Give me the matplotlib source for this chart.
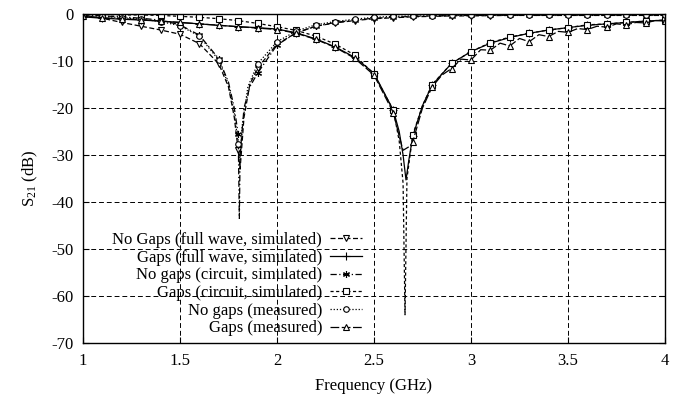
import numpy as np
import matplotlib
matplotlib.use("Agg")
import matplotlib.pyplot as plt

plt.rcParams['font.family'] = ['Liberation Serif', 'DejaVu Serif']
plt.rcParams['mathtext.fontset'] = 'custom'
plt.rcParams['mathtext.rm'] = 'Liberation Serif'
plt.rcParams['mathtext.it'] = 'Liberation Serif:italic'
plt.rcParams['axes.unicode_minus'] = False

# ---- data (frequency in GHz, S21 in dB) ----
steps_lo = [1.0, 1.1, 1.2, 1.3, 1.4, 1.5, 1.6, 1.7]
steps_hi = [2.0, 2.1, 2.2, 2.3, 2.4, 2.5, 2.6, 2.7, 2.8, 2.9, 3.0,
            3.1, 3.2, 3.3, 3.4, 3.5, 3.6, 3.7, 3.8, 3.9, 4.0]

# No Gaps (full wave, simulated)
f_ngfw = steps_lo + [1.75, 1.78, 1.8, 1.81, 1.83, 1.86, 1.9] + steps_hi
s_ngfw = [-0.3, -0.9, -1.8, -2.6, -3.4, -4.3, -6.3, -10.6,
          -15.5, -22.0, -29.0, -33.0, -22.0, -15.0, -11.5,
          -6.4, -4.0, -2.6, -1.9, -1.4, -1.0, -0.8, -0.6, -0.5, -0.4, -0.4,
          -0.35, -0.3, -0.3, -0.3, -0.3, -0.3, -0.3, -0.3, -0.3, -0.3]

# Gaps (full wave, simulated)
f_gfw = [1.0, 1.1, 1.2, 1.3, 1.4, 1.5, 1.6, 1.7, 1.8, 1.9, 2.0, 2.1, 2.2,
         2.3, 2.4, 2.5, 2.6, 2.63, 2.65, 2.665, 2.68, 2.7, 2.75, 2.8, 2.9,
         3.0, 3.1, 3.2, 3.3, 3.4, 3.5, 3.6, 3.7, 3.8, 3.9, 4.0]
s_gfw = [-0.6, -0.9, -1.1, -1.3, -1.5, -1.8, -2.1, -2.4, -2.7, -2.9, -3.2,
         -4.0, -5.3, -7.0, -9.2, -12.6, -20.5, -25.0, -30.0, -35.3, -31.0,
         -26.0, -19.5, -15.1, -10.5, -8.0, -6.2, -5.0, -4.1, -3.4, -2.9,
         -2.4, -2.1, -1.8, -1.5, -1.3]

# No gaps (circuit, simulated)
f_ngc = steps_lo + [1.75, 1.78, 1.8, 1.806, 1.81, 1.83, 1.86, 1.9] + steps_hi
s_ngc = [-0.2, -0.4, -0.6, -0.9, -1.3, -2.3, -4.5, -9.5,
         -14.5, -20.0, -25.5, -43.5, -30.0, -20.0, -15.5, -12.6,
         -6.6, -4.0, -2.6, -1.8, -1.3, -0.9, -0.7, -0.5, -0.4, -0.35, -0.3,
         -0.3, -0.25, -0.25, -0.2, -0.2, -0.2, -0.2, -0.2, -0.2, -0.2]

# Gaps (circuit, simulated)
f_gc = [1.0, 1.1, 1.2, 1.3, 1.4, 1.5, 1.6, 1.7, 1.8, 1.9, 2.0, 2.1, 2.2,
        2.3, 2.4, 2.5, 2.6, 2.63, 2.65, 2.66, 2.67, 2.7, 2.75, 2.8, 2.9,
        3.0, 3.1, 3.2, 3.3, 3.4, 3.5, 3.6, 3.7, 3.8, 3.9, 4.0]
s_gc = [-0.1, -0.1, -0.2, -0.2, -0.3, -0.5, -0.7, -1.0, -1.4, -2.0, -2.7,
        -3.5, -4.7, -6.4, -8.7, -12.8, -20.5, -27.0, -36.0, -64.0, -35.0,
        -25.7, -19.5, -15.0, -10.5, -8.0, -6.1, -4.9, -4.1, -3.4, -2.9,
        -2.3, -2.1, -1.8, -1.5, -1.3]

# No gaps (measured)
f_ngm = steps_lo + [1.75, 1.78, 1.8, 1.81, 1.82, 1.85, 1.9] + steps_hi
s_ngm = [-0.4, -0.5, -0.8, -1.1, -1.6, -2.5, -4.7, -9.8,
         -15.0, -21.0, -27.7, -31.0, -24.0, -15.5, -10.6,
         -5.9, -3.6, -2.3, -1.6, -1.1, -0.7, -0.5, -0.4, -0.4, -0.3, -0.3,
         -0.3, -0.3, -0.3, -0.3, -0.3, -0.3, -0.3, -0.3, -0.3, -0.3]

# Gaps (measured)
f_gm = [1.0, 1.1, 1.2, 1.3, 1.4, 1.5, 1.6, 1.7, 1.8, 1.9, 2.0, 2.1, 2.2,
        2.3, 2.4, 2.5, 2.6, 2.63, 2.65, 2.67, 2.69, 2.7, 2.75, 2.8, 2.85,
        2.9, 2.95, 3.0, 3.05, 3.1, 3.15, 3.2, 3.25, 3.3, 3.35, 3.4, 3.45,
        3.5, 3.55, 3.6, 3.65, 3.7, 3.75, 3.8, 3.85, 3.9, 3.95, 4.0]
s_gm = [-0.5, -0.8, -1.0, -1.2, -1.5, -1.8, -2.1, -2.4, -2.7, -3.0, -3.3,
        -4.1, -5.4, -7.1, -9.4, -13.0, -21.0, -26.0, -29.0, -28.5, -28.0,
        -27.2, -20.0, -15.5, -13.0, -11.6, -9.6, -9.8, -7.6, -7.7, -6.2,
        -6.8, -5.2, -5.9, -4.4, -4.8, -3.7, -3.9, -3.1, -3.3, -2.6, -2.8,
        -2.1, -2.3, -1.8, -1.9, -1.4, -1.5]

labels = ['No Gaps (full wave, simulated)', 'Gaps (full wave, simulated)',
          'No gaps (circuit, simulated)', 'Gaps (circuit, simulated)',
          'No gaps (measured)', 'Gaps (measured)']


def tenth_idx(freqs):
    return [i for i, f in enumerate(freqs) if abs(f * 10 - round(f * 10)) < 1e-6]


fig = plt.figure(figsize=(6.84, 3.98), dpi=100)
ax = fig.add_axes([0.1213, 0.1382, 0.8509, 0.8266])

k = dict(color='black', lw=0.9, ms=4.5, mew=0.8, mfc='white')
series = [
    (f_ngfw, s_ngfw, dict(ls=(0, (4, 2)), marker='v')),
    (f_gfw, s_gfw, dict(ls='-', marker='+', ms=6)),
    (f_ngc, s_ngc, dict(ls=(0, (5, 2, 1, 2)), marker=(6, 2, 0), ms=5)),
    (f_gc, s_gc, dict(ls=(0, (2.5, 2)), marker='s', ms=4.5)),
    (f_ngm, s_ngm, dict(ls=(0, (1, 1.5)), marker='o', ms=4)),
    (f_gm, s_gm, dict(ls=(0, (7, 2)), marker='^', ms=4)),
]
handles = []
for (fx, sy, st), lab in zip(series, labels):
    opts = dict(k)
    opts.update(st)
    ax.plot(fx, sy, markevery=tenth_idx(fx), **opts)
    # proxy artist for the legend: one marker in the middle of the sample
    h, = ax.plot([], [], label=lab, **opts)
    handles.append(h)

ax.set_xlim(1, 4)
ax.set_ylim(-70, 0)
ax.set_xticks([1, 1.5, 2, 2.5, 3, 3.5, 4])
ax.set_xticklabels(['1', '1.5', '2', '2.5', '3', '3.5', '4'])
ax.set_yticks(np.arange(-70, 1, 10))
ax.tick_params(direction='in', length=4, width=0.8, top=True, right=True,
               labelsize=12, pad=7)
ax.grid(True, color='black', ls=(0, (5, 3)), lw=0.7)
for sp in ax.spines.values():
    sp.set_linewidth(1.0)

ax.set_xlabel('Frequency (GHz)', fontsize=12, labelpad=7)
ax.set_ylabel('S$_{21}$ (dB)', fontsize=12, labelpad=8)

leg = ax.legend(handles=handles, loc='upper right',
                bbox_to_anchor=(362 / 684, 1 - 232 / 398),
                bbox_transform=fig.transFigure, frameon=False, markerfirst=False,
                fontsize=12, handlelength=1.9, handletextpad=0.5,
                labelspacing=0.1, borderpad=0, borderaxespad=0, numpoints=1)

fig.savefig('out.png', dpi=100)
